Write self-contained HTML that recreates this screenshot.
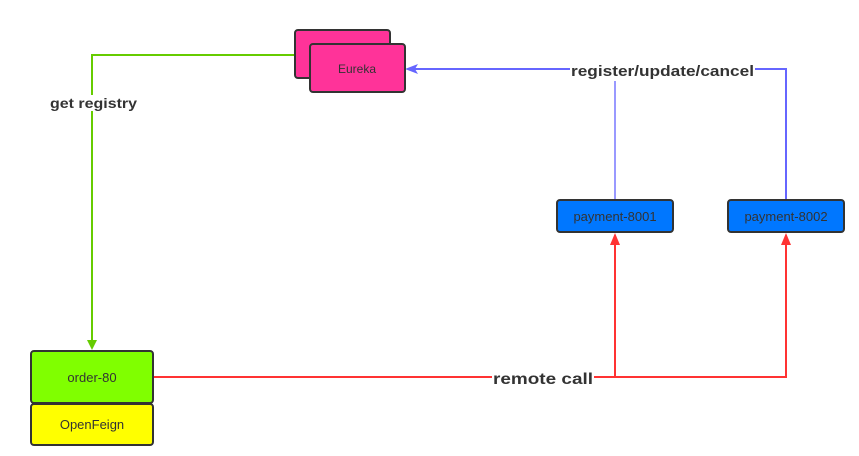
<!DOCTYPE html>
<html><head><style>
body{margin:0;background:#fff;}
svg{display:block;font-family:"Liberation Sans",sans-serif;}
</style></head><body>
<svg width="859" height="456" xmlns="http://www.w3.org/2000/svg">
<!-- green -->
<polyline points="295,55 92,55 92,342" fill="none" stroke="#66cc00" stroke-width="2"/>
<polygon points="87,340 97,340 92,350" fill="#66cc00"/>
<rect x="50" y="95" width="87" height="16" fill="#fff"/>
<text x="50" y="108" font-size="14" font-weight="bold" fill="#333" textLength="87" lengthAdjust="spacingAndGlyphs">get registry</text>
<!-- blue -->
<polyline points="786,200 786,69 415,69" fill="none" stroke="#6666ff" stroke-width="2"/>
<polygon points="405,69 418,64 415,69 418,74" fill="#6666ff"/>
<line x1="615" y1="69" x2="615" y2="200" stroke="#9999ff" stroke-width="2"/>
<rect x="570" y="60" width="185" height="21" fill="#fff"/>
<text x="571" y="76" font-size="15" font-weight="bold" fill="#333" textLength="183" lengthAdjust="spacingAndGlyphs">register/update/cancel</text>
<!-- red -->
<polyline points="153,377 786,377 786,242" fill="none" stroke="#ff3333" stroke-width="2"/>
<line x1="615" y1="377" x2="615" y2="242" stroke="#ff3333" stroke-width="2"/>
<polygon points="610,245 620,245 615,233" fill="#ff3333"/>
<polygon points="781,245 791,245 786,233" fill="#ff3333"/>
<rect x="492" y="368" width="102" height="20" fill="#fff"/>
<text x="493" y="384" font-size="16" font-weight="bold" fill="#333" textLength="100" lengthAdjust="spacingAndGlyphs">remote call</text>
<!-- Eureka -->
<rect x="295" y="30" width="95" height="48" rx="3" fill="#ff3399" stroke="#333" stroke-width="2"/>
<rect x="310" y="44" width="95" height="48" rx="3" fill="#ff3399" stroke="#333" stroke-width="2"/>
<text x="357" y="73" font-size="12" fill="#333" text-anchor="middle">Eureka</text>
<!-- payments -->
<rect x="557" y="200" width="116" height="32" rx="3" fill="#0077ff" stroke="#333" stroke-width="2"/>
<text x="615" y="221" font-size="13" fill="#333" text-anchor="middle">payment-8001</text>
<rect x="728" y="200" width="116" height="32" rx="3" fill="#0077ff" stroke="#333" stroke-width="2"/>
<text x="786" y="221" font-size="13" fill="#333" text-anchor="middle">payment-8002</text>
<!-- order -->
<rect x="31" y="351" width="122" height="52" rx="3" fill="#80ff00" stroke="#333" stroke-width="2"/>
<text x="92" y="382" font-size="13" fill="#333" text-anchor="middle">order-80</text>
<rect x="31" y="404" width="122" height="41" rx="3" fill="#ffff00" stroke="#333" stroke-width="2"/>
<text x="92" y="429" font-size="13" fill="#333" text-anchor="middle">OpenFeign</text>
</svg>
</body></html>
